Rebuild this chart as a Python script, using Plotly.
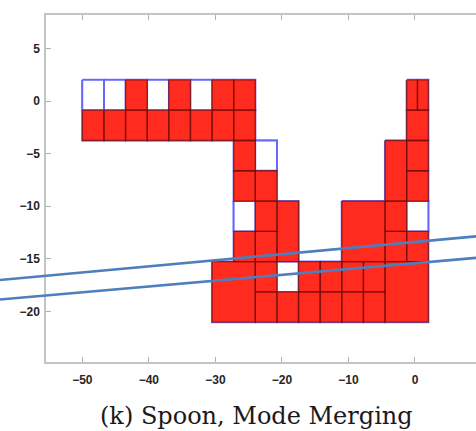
import plotly.graph_objects as go

# Grid specification (data units)
grid_x0 = -50.0
grid_dx = 3.25
grid_y0 = 2.0
grid_dy = 2.875

# Cells: column start/end, row start/end (row 0 at top), filled (True=red, False=empty)
cell_c0 = [0, 1, 2, 3, 4, 5, 6, 7, 15, 15.5,
           0, 1, 2, 3, 4, 5, 6, 7, 15,
           7, 7, 7, 7,
           8, 8, 8, 8, 8, 8,
           9, 9, 9,
           10, 10, 11, 11, 12, 12, 13, 13,
           12,
           14, 14, 14,
           15, 15, 15, 15,
           14, 6]
cell_c1 = [1, 2, 3, 4, 5, 6, 7, 8, 15.5, 16,
           1, 2, 3, 4, 5, 6, 7, 8, 16,
           8, 8, 8, 8,
           9, 9, 9, 9, 9, 9,
           10, 10, 10,
           11, 11, 12, 12, 13, 13, 14, 14,
           14,
           15, 15, 15,
           16, 16, 16, 16,
           16, 8]
cell_r0 = [0, 0, 0, 0, 0, 0, 0, 0, 0, 0,
           1, 1, 1, 1, 1, 1, 1, 1, 1,
           2, 3, 4, 5,
           2, 3, 4, 5, 6, 7,
           4, 6, 7,
           6, 7, 6, 7, 6, 7, 6, 7,
           4,
           2, 4, 5,
           2, 3, 4, 5,
           6, 6]
cell_r1 = [1, 1, 1, 1, 1, 1, 1, 1, 1, 1,
           2, 2, 2, 2, 2, 2, 2, 2, 2,
           3, 4, 5, 6,
           3, 4, 5, 6, 7, 8,
           6, 7, 8,
           7, 8, 7, 8, 7, 8, 7, 8,
           6,
           4, 5, 6,
           3, 4, 5, 6,
           8, 8]
cell_filled = [False, False, True, False, True, False, True, True, True, True,
               True, True, True, True, True, True, True, True, True,
               True, True, False, True,
               False, True, True, True, True, True,
               True, False, True,
               True, True, True, True, True, True, True, True,
               True,
               True, True, True,
               True, True, False, True,
               True, True]

# Two separating lines (endpoints)
line_x = [-62.4, 9.2]
upper_y = [-17.0, -12.86]
lower_y = [-18.85, -14.9]

x_ticks = [-50, -40, -30, -20, -10, 0]
y_ticks = [-20, -15, -10, -5, 0, 5]

x_range = [-55.46, 9.17]
y_range = [-24.79, 8.17]
x2_range = [-62.37, 9.17]

caption = "(k) Spoon, Mode Merging"


def polys(mask):
    xs, ys = [], []
    for c0, c1, r0, r1, f in zip(cell_c0, cell_c1, cell_r0, cell_r1, cell_filled):
        if mask is not None and f != mask:
            continue
        xa = grid_x0 + grid_dx * c0
        xb = grid_x0 + grid_dx * c1
        ya = grid_y0 - grid_dy * r0
        yb = grid_y0 - grid_dy * r1
        xs += [xa, xb, xb, xa, xa, None]
        ys += [ya, ya, yb, yb, ya, None]
    return xs, ys


fig = go.Figure()

ax, ay = polys(None)
fig.add_trace(go.Scatter(x=ax, y=ay, mode="lines", line=dict(color="#7a7aff", width=2.2),
                         hoverinfo="skip", showlegend=False))
wx, wy = polys(False)
fig.add_trace(go.Scatter(x=wx, y=wy, mode="lines", fill="toself", fillcolor="white",
                         line=dict(color="#6565ff", width=1.8), hoverinfo="skip", showlegend=False))
rx, ry = polys(True)
fig.add_trace(go.Scatter(x=rx, y=ry, mode="lines", fill="toself", fillcolor="#ff2b1e",
                         line=dict(color="rgba(110,10,5,0.7)", width=1.3),
                         hoverinfo="skip", showlegend=False))

for ys in (upper_y, lower_y):
    fig.add_trace(go.Scatter(x=line_x, y=ys, mode="lines", xaxis="x2", yaxis="y2",
                             line=dict(color="#4d7fbd", width=2.6), hoverinfo="skip",
                             showlegend=False))

axis_font = dict(family="Liberation Sans", size=12, color="#262626", weight="bold")

fig.update_layout(
    width=476, height=431,
    margin=dict(l=0, r=0, t=15, b=69),
    paper_bgcolor="white",
    plot_bgcolor="rgba(0,0,0,0)",
    showlegend=False,
    xaxis=dict(domain=[46 / 476, 1], range=x_range, tickvals=x_ticks, ticks="inside",
               ticklen=5, tickcolor="#b0b0b0", showline=True, linecolor="#c4c4c4",
               linewidth=1.5, mirror="ticks", showgrid=False, zeroline=False,
               tickfont=axis_font, ticklabelstandoff=6, automargin=False, anchor="y"),
    yaxis=dict(domain=[0, 1], range=y_range, tickvals=y_ticks, ticks="inside",
               ticklen=5, tickcolor="#b0b0b0", showline=True, linecolor="#c4c4c4",
               linewidth=1.5, mirror=False, showgrid=False, zeroline=False,
               tickfont=axis_font, ticklabelstandoff=2, automargin=False, anchor="x"),
    xaxis2=dict(domain=[0, 1], range=x2_range, visible=False, anchor="y2"),
    yaxis2=dict(domain=[0, 1], range=y_range, visible=False, anchor="x2"),
    annotations=[dict(text=caption, x=256.5 / 476, y=-(416 - 362) / 347,
                      xref="paper", yref="paper", xanchor="center", yanchor="middle",
                      showarrow=False,
                      font=dict(family="DejaVu Serif", size=24, color="#1a1a1a"))],
)

fig.write_html("out.html", config={"displayModeBar": False},
               post_script="document.body.style.margin='0';document.body.style.overflow='hidden';")
